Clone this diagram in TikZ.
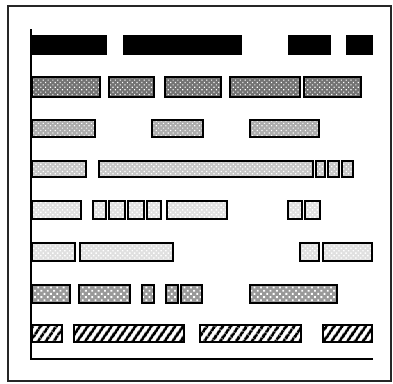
\documentclass[tikz,border=0pt]{standalone}
\usetikzlibrary{patterns,patterns.meta}
\begin{document}
\begin{tikzpicture}[x=1pt,y=-1pt,
  frame/.style={line width=2.6pt,black!85},
  axisline/.style={line width=2pt},
  solidbar/.style={fill=black,draw=black,line width=1pt},
  dark/.style={draw=black,line width=2.8pt,preaction={fill=black!55},pattern={Dots[radius=0.8pt,distance=3.4pt,angle=45]},pattern color=white},
  medium/.style={draw=black,line width=2.6pt,preaction={fill=black!32},pattern={Dots[radius=0.8pt,distance=3.4pt,angle=45]},pattern color=white},
  light/.style={draw=black,line width=2.4pt,preaction={fill=black!22},pattern={Dots[radius=0.9pt,distance=3.4pt,angle=45]},pattern color=white},
  lighter/.style={draw=black,line width=2.4pt,preaction={fill=black!12},pattern={Dots[radius=1pt,distance=3.4pt,angle=45]},pattern color=white},
  cross/.style={draw=black,line width=2.8pt,preaction={fill=black!40},pattern={Dots[radius=1.3pt,distance=4.5pt,angle=45]},pattern color=white},
  hatch/.style={draw=black,line width=2.8pt,preaction={fill=white},pattern={Lines[angle=55,distance=6.5pt,line width=3.2pt]},pattern color=black}]
\useasboundingbox (0,0) rectangle (393,383);
\draw[frame] (8,6) rectangle (391,381);
% row 1
\foreach \a/\b in {31/106,123/241,288/330,346/372}
  \draw[solidbar] (\a,35) rectangle (\b,54);
% row 2
\foreach \a/\b in {32/100,109/154,165/221,230/300,304/361}
  \draw[dark] (\a,77) rectangle (\b,97);
% row 3
\foreach \a/\b in {32/95,152/203,250/319}
  \draw[medium] (\a,120) rectangle (\b,137);
% row 4
\foreach \a/\b in {32/86,99/313,316/325,328/339,342/353}
  \draw[light] (\a,161) rectangle (\b,177);
% row 5
\foreach \a/\b in {32/81,93/106,109/125,128/144,147/161,167/227,288/302,305/320}
  \draw[lighter] (\a,201) rectangle (\b,219);
% row 6
\foreach \a/\b in {32/75,80/173,300/319,323/372}
  \draw[lighter] (\a,243) rectangle (\b,261);
% row 7
\foreach \a/\b in {32/70,79/130,142/154,166/178,181/202,250/337}
  \draw[cross] (\a,285) rectangle (\b,303);
% row 8
\foreach \a/\b in {32/62,74/184,200/301,323/372}
  \draw[hatch] (\a,325) rectangle (\b,342);
% axes
\coordinate (top) at (31,29);
\coordinate (origin) at (31,359);
\coordinate (right) at (373,359);
\draw[axisline] (top) -- (origin) -- (right);
\end{tikzpicture}
\end{document}
